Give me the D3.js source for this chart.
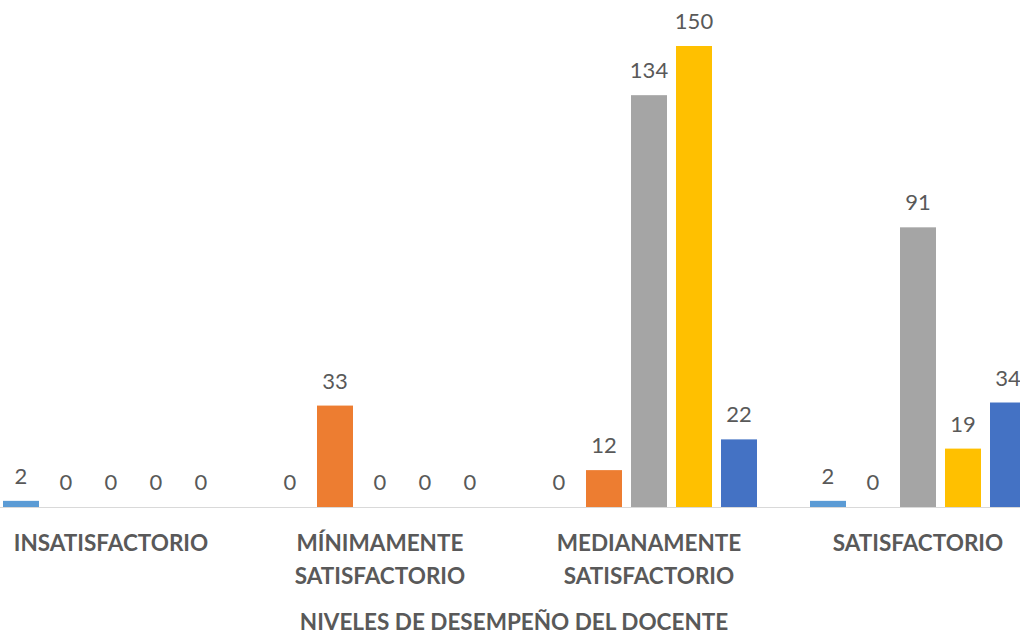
<!DOCTYPE html>
<html><head><meta charset="utf-8">
<script src="https://cdn.jsdelivr.net/npm/d3@7"></script>
<style>html,body{margin:0;padding:0;background:#fff;overflow:hidden}</style>
</head><body>
<svg id="c" width="1020" height="636"></svg>
<script>
const categories = [["INSATISFACTORIO"],["MÍNIMAMENTE","SATISFACTORIO"],["MEDIANAMENTE","SATISFACTORIO"],["SATISFACTORIO"]];
const seriesNames = ["S1","S2","S3","S4","S5"];
const seriesColors = ["#5B9BD5","#ED7D31","#A5A5A5","#FFC000","#4472C4"];
const values = [
  [2,0,0,0,0],
  [0,33,0,0,0],
  [0,12,134,150,22],
  [2,0,91,19,34]
];
const axisTitle = "NIVELES DE DESEMPEÑO DEL DOCENTE";

const svg = d3.select("#c");
const font = "Lato, 'Open Sans', sans-serif";
const baseY = 507;
const y = d3.scaleLinear().domain([0,150]).range([baseY, 46]);
const x0 = d3.scaleBand().domain(d3.range(categories.length)).range([-23.5, 1052.5]).padding(0);
const inner = 216;
const off = (x0.bandwidth()-inner)/2;
const x1 = d3.scaleBand().domain(seriesNames).range([off, off+inner]).paddingInner(0.2).paddingOuter(0);

svg.append("line").attr("x1",0).attr("x2",1020).attr("y1",baseY+0.5).attr("y2",baseY+0.5)
  .attr("stroke","#d9d9d9").attr("stroke-width",1);

const g = svg.selectAll("g.cat").data(values).join("g").attr("class","cat")
  .attr("transform",(d,i)=>`translate(${x0(i)},0)`);

g.selectAll("rect").data(d=>d.map((v,j)=>({v,j}))).join("rect")
  .attr("x",d=>x1(seriesNames[d.j])).attr("width",x1.bandwidth())
  .attr("y",d=>y(d.v)).attr("height",d=>baseY-y(d.v))
  .attr("fill",d=>seriesColors[d.j]);

g.selectAll("text.val").data(d=>d.map((v,j)=>({v,j}))).join("text").attr("class","val")
  .attr("x",d=>x1(seriesNames[d.j])+x1.bandwidth()/2).attr("y",d=>y(d.v)-17)
  .attr("text-anchor","middle").attr("font-family",font).attr("font-size",22)
  .attr("fill","#595959").text(d=>d.v);

const lab = svg.selectAll("text.cl").data(categories).join("text").attr("class","cl")
  .attr("text-anchor","middle").attr("font-family",font).attr("font-size",22.5).attr("font-weight","bold")
  .attr("fill","#595959");
lab.each(function(d,i){
  d3.select(this).selectAll("tspan").data(d).join("tspan")
    .attr("x",x0(i)+x0.bandwidth()/2).attr("y",(t,k)=>551+k*33).text(t=>t);
});

svg.append("text").attr("x",514).attr("y",630).attr("text-anchor","middle")
  .attr("font-family",font).attr("font-size",22.5).attr("font-weight","bold").attr("fill","#595959")
  .text(axisTitle);
</script>
</body></html>
